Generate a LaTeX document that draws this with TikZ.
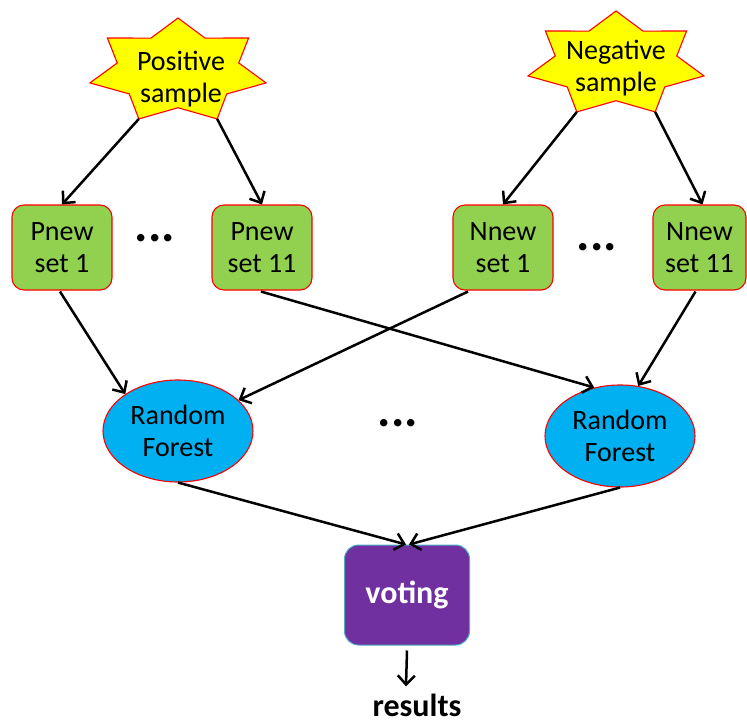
\documentclass[tikz,border=0pt]{standalone}
\usepackage{fontspec}
\setmainfont{Carlito}
\usetikzlibrary{arrows.meta,calc,shapes.geometric}
\definecolor{starY}{RGB}{255,255,0}
\definecolor{bordR}{RGB}{255,0,0}
\definecolor{boxG}{RGB}{146,208,80}
\definecolor{ellB}{RGB}{0,176,240}
\definecolor{voteP}{RGB}{112,48,160}
\definecolor{voteE}{RGB}{75,172,198}
\tikzset{
  starsty/.style={fill=starY,draw=bordR,line width=1.1pt,line join=miter},
  txt/.style={align=center,inner sep=0pt,font=\fontsize{28}{31.5}\selectfont},
  setbox/.style={txt,rectangle,rounded corners=12pt,fill=boxG,draw=bordR,line width=1.1pt,minimum width=100pt,minimum height=85pt},
  rfell/.style={txt,ellipse,fill=ellB,draw=bordR,line width=1.1pt,minimum width=150pt,minimum height=102pt},
  votebox/.style={align=center,inner sep=0pt,rectangle,rounded corners=14pt,fill=voteP,draw=voteE,line width=1pt,minimum width=125pt,minimum height=100pt,text=white,font=\fontsize{32}{36}\selectfont\bfseries},
  dotstxt/.style={inner sep=0pt,font=\fontsize{50}{50}\selectfont\bfseries},
  arr/.style={line width=2.5pt,-{Straight Barb[length=9pt,width=17pt]}},
}
\begin{document}
\begin{tikzpicture}[x=1pt,y=-1pt]
\useasboundingbox (0,0) rectangle (747,725);
% positive star
\begin{scope}[shift={(178,71.1)}]
\draw[starsty] (-90:90.3 and 53.1)
  \foreach[evaluate=\k as \a using {-90+\k*180/7},
           evaluate=\k as \rx using {90.3*(1-0.31*mod(\k,2))},
           evaluate=\k as \ry using {53.1*(1-0.31*mod(\k,2))}] \k in {1,...,13} { -- (\a:{\rx} and {\ry}) } -- cycle;
\coordinate (posL) at (115.71:90.3 and 53.1);
\coordinate (posR) at (64.29:90.3 and 53.1);
\end{scope}
\node[txt] (pos) at (181,79) {Positive\\sample};
% negative star
\begin{scope}[shift={(616,64.1)}]
\draw[starsty] (-90:90.3 and 53.1)
  \foreach[evaluate=\k as \a using {-90+\k*180/7},
           evaluate=\k as \rx using {90.3*(1-0.31*mod(\k,2))},
           evaluate=\k as \ry using {53.1*(1-0.31*mod(\k,2))}] \k in {1,...,13} { -- (\a:{\rx} and {\ry}) } -- cycle;
\coordinate (negL) at (115.71:90.3 and 53.1);
\coordinate (negR) at (64.29:90.3 and 53.1);
\end{scope}
\node[txt] (neg) at (616,68) {Negative\\sample};
% set boxes
\node[setbox] (p1) at (62,247.5) {Pnew\\set 1};
\node[setbox] (p11) at (262,247.5) {Pnew\\set 11};
\node[setbox] (n1) at (503,247.5) {Nnew\\set 1};
\node[setbox,minimum width=93pt] (n11) at (699.5,247.5) {Nnew\\set 11};
\node[dotstxt] (d1) at (155,238) {...};
\node[dotstxt] (d2) at (597,247) {...};
% random forests
\node[rfell] (rf1) at (178,431) {Random\\Forest};
\node[rfell] (rf2) at (620,436) {Random\\Forest};
\node[dotstxt] (d3) at (398,423) {...};
% voting
\node[votebox] (vote) at (407,595) {voting};
\node[inner sep=0pt,anchor=base,font=\fontsize{32}{36}\selectfont\bfseries] (res) at (417,716) {results};
% arrows
\draw[arr] (posL) -- (p1.north);
\draw[arr] (posR) -- (p11.north);
\draw[arr] (negL) -- (n1.north);
\draw[arr] (negR) -- ($(n11.north)+(3,0)$);
\draw[arr] ($(p1.south)+(-2,1)$) -- (rf1.145);
\draw[arr] ($(p11.south)+(-1,1)$) -- (rf2.118);
\draw[arr] ($(n1.south)+(-35,1)$) -- (rf1.27);
\draw[arr] ($(n11.south)+(-4,1)$) -- (rf2.70);
\draw[arr] (rf1.south) -- ($(vote.north)+(-1,0)$);
\draw[arr] (rf2.south) -- ($(vote.north)+(2,0)$);
\draw[arr] ($(vote.south)+(0,5)$) -- ($(res.north)+(-11,-7)$);
\end{tikzpicture}
\end{document}
